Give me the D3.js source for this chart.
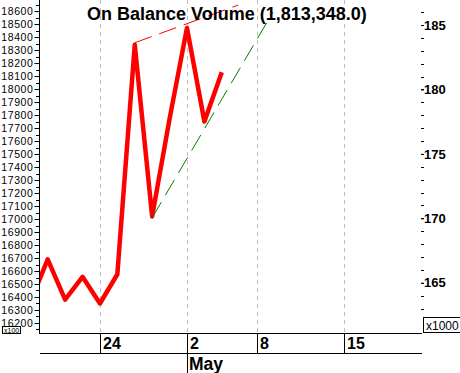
<!DOCTYPE html>
<html><head><meta charset="utf-8">
<script src="https://cdn.jsdelivr.net/npm/d3@7"></script>
<style>html,body{margin:0;padding:0;background:#fff;}svg{display:block;font-family:"Liberation Sans",Arial,sans-serif;}</style>
</head><body>
<script>
// trading days (index-based x axis)
const dates = ["2019-04-16","2019-04-17","2019-04-18","2019-04-23","2019-04-24","2019-04-25","2019-04-26","2019-04-29","2019-04-30","2019-05-02","2019-05-03","2019-05-06","2019-05-07","2019-05-08","2019-05-09","2019-05-10","2019-05-13","2019-05-14","2019-05-15","2019-05-16","2019-05-17","2019-05-20","2019-05-21","2019-05-22"];
// On Balance Volume (x100)
const obv = [16360,16690,16380,16555,16350,16575,18340,17020,17770,18470,17750,18130];
// trend lines: [index, value]
const resistance = [[6,18356],[11.94,18646]];
const support = [[7,17010],[13.94,18592]];
const xTickIdx = [4,9,13,18];
const xTickLabels = ["24","2","8","15"];
const monthIdx = [9];
const monthLabels = ["May"];
const leftTicks = [16200,16300,16400,16500,16600,16700,16800,16900,17000,17100,17200,17300,17400,17500,17600,17700,17800,17900,18000,18100,18200,18300,18400,18500,18600];
const rightTicks = [165,170,175,180,185];
const title = "On Balance Volume (1,813,348.0)";

const W=460,H=373;
const L=39,R=422,T=0,B=333;
const svg=d3.select("body").append("svg").attr("width",W).attr("height",H);

const x=d3.scaleLinear().domain([0.5,22.5]).range([L,R]);
const y=d3.scaleLinear().domain([16123,18685]).range([B,T]);
const y2=d3.scaleLinear().domain([161.1,186.94]).range([B,T]);

svg.append("defs").append("clipPath").attr("id","clip")
  .append("rect").attr("x",L).attr("y",T).attr("width",R-L).attr("height",B-T);

// vertical dashed grid
svg.append("g").selectAll("line").data(xTickIdx).join("line")
  .attr("x1",d=>Math.round(x(d))+0.5).attr("x2",d=>Math.round(x(d))+0.5)
  .attr("y1",T).attr("y2",B)
  .attr("stroke","#c0c0c0").attr("stroke-width",1).attr("stroke-dasharray","4,4");

const plot=svg.append("g").attr("clip-path","url(#clip)");
const line=d3.line().x((d,i)=>x(i)).y(d=>y(d));
plot.append("path").datum(obv).attr("d",line)
  .attr("fill","none").attr("stroke","#ff0000").attr("stroke-width",4.5).attr("stroke-linejoin","round");

const tl=d3.line().x(d=>x(d[0])).y(d=>y(d[1]));
plot.append("path").datum(resistance).attr("d",tl).attr("fill","none")
  .attr("stroke","#ff0000").attr("stroke-width",1).attr("stroke-dasharray","18,8");
plot.append("path").datum(support).attr("d",tl).attr("fill","none")
  .attr("stroke","#008000").attr("stroke-width",1).attr("stroke-dasharray","18,8");

// left axis
const minorL=d3.range(16150,18700,100);
svg.append("g").selectAll("line").data(minorL).join("line")
  .attr("x1",36).attr("x2",L).attr("y1",d=>Math.round(y(d))+0.5).attr("y2",d=>Math.round(y(d))+0.5)
  .attr("stroke","#000");
const la=svg.append("g").attr("transform",`translate(${L+0.5},0)`)
  .call(d3.axisLeft(y).tickValues(leftTicks).tickFormat(d3.format("d")).tickSize(5).tickPadding(1).tickSizeOuter(0));
la.select(".domain").remove();
la.selectAll("text").attr("font-size","10.5px").attr("letter-spacing","0.6px").attr("font-family","'Liberation Sans',Arial,sans-serif").attr("fill","#000");
svg.append("line").attr("x1",L+0.5).attr("x2",L+0.5).attr("y1",0).attr("y2",B+0.5).attr("stroke","#000");

// right axis
const minorR=d3.range(163,187,1);
svg.append("g").selectAll("line").data(minorR).join("line")
  .attr("x1",421).attr("x2",424).attr("y1",d=>Math.round(y2(d))+0.5).attr("y2",d=>Math.round(y2(d))+0.5)
  .attr("stroke","#000");
const ra=svg.append("g").attr("transform",`translate(421,0)`)
  .call(d3.axisRight(y2).tickValues(rightTicks).tickSize(3).tickPadding(0).tickSizeOuter(0));
ra.select(".domain").remove();
ra.selectAll("text").attr("font-size","13px").attr("font-weight","bold").attr("font-family","'Liberation Sans',Arial,sans-serif").attr("fill","#000");

// bottom axis lines
svg.append("line").attr("x1",L).attr("x2",R).attr("y1",B+0.5).attr("y2",B+0.5).attr("stroke","#000");
svg.append("line").attr("x1",40).attr("x2",R).attr("y1",353.5).attr("y2",353.5).attr("stroke","#000");
const xa=svg.append("g");
xa.selectAll("line").data(xTickIdx).join("line")
  .attr("x1",d=>Math.round(x(d))+0.5).attr("x2",d=>Math.round(x(d))+0.5)
  .attr("y1",B).attr("y2",353).attr("stroke","#000");
xa.selectAll("text").data(xTickIdx).join("text")
  .attr("x",d=>Math.round(x(d))+3).attr("y",349)
  .attr("font-size","16px").attr("font-weight","bold").text((d,i)=>xTickLabels[i]);
const ma=svg.append("g");
ma.selectAll("line").data(monthIdx).join("line")
  .attr("x1",d=>Math.round(x(d))+0.5).attr("x2",d=>Math.round(x(d))+0.5)
  .attr("y1",353).attr("y2",373).attr("stroke","#000");
ma.selectAll("text").data(monthIdx).join("text")
  .attr("x",d=>Math.round(x(d))+2).attr("y",369.5)
  .attr("font-size","17.5px").attr("font-weight","bold").text((d,i)=>monthLabels[i]);

// multiplier boxes
svg.append("rect").attr("x",2.5).attr("y",326.5).attr("width",18).attr("height",7).attr("fill","#fff").attr("stroke","#000");
svg.append("text").attr("x",4).attr("y",332.5).attr("font-size","7px").text("x100");
svg.append("rect").attr("x",423.5).attr("y",317.5).attr("width",40).attr("height",15).attr("fill","#fff").attr("stroke","#000");
svg.append("text").attr("x",426).attr("y",329.5).attr("font-size","12px").text("x1000");

// title
svg.append("text").attr("x",87).attr("y",20).attr("font-size","18px").attr("font-weight","bold").attr("fill","#000").text(title);
</script>
</body></html>
